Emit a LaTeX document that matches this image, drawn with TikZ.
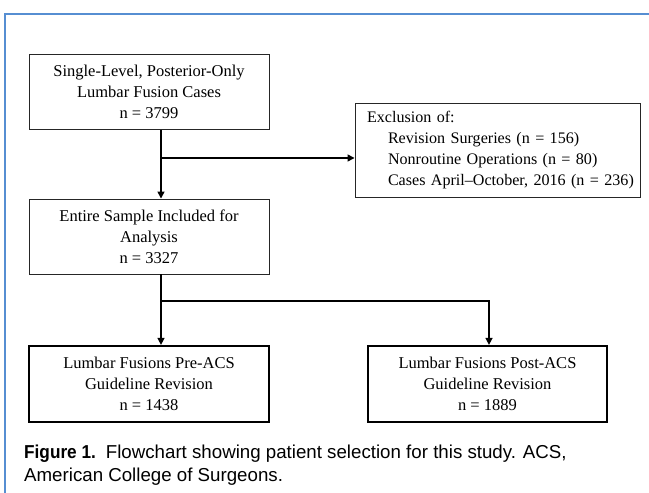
\documentclass[tikz,border=0pt]{standalone}
\usepackage{fontspec}
\setmainfont{Liberation Serif}
\newfontfamily\capfont{Liberation Sans}
\usetikzlibrary{arrows.meta,calc}
\definecolor{framebl}{RGB}{86,142,210}
\tikzset{
  boxtext/.style={font=\fontsize{16.5}{21}\selectfont},
  thinbox/.style={draw=black!85, line width=0.9pt, boxtext, align=center, inner sep=0pt, minimum width=240pt, minimum height=75pt},
  thickbox/.style={draw=black, line width=2.2pt, boxtext, align=center, inner sep=0pt, minimum width=240pt, minimum height=76pt},
  exclbox/.style={draw=black!85, line width=0.9pt, font=\fontsize{16.1}{21}\selectfont, align=left, inner xsep=12pt, inner ysep=0pt, text width=261pt, minimum height=94pt},
  conn/.style={line width=1.4pt, black},
  arr/.style={conn, -{Triangle[length=7pt,width=7pt]}},
  framel/.style={draw=framebl, line width=2.6pt},
  captext/.style={font=\capfont\fontsize{18.7}{23}\selectfont, anchor=base west, inner sep=0pt}
}
\begin{document}
\begin{tikzpicture}[x=1pt,y=1pt]
\useasboundingbox (0,0) rectangle (649,493);
% frame
\draw[framel] (5,0) -- (5,479) -- (649,479);
% nodes
\node[thinbox] (b1) at (149,401) {Single-Level, Posterior-Only\\Lumbar Fusion Cases\\n = 3799};
\node[exclbox] (excl) at (497.5,343) {\mbox{Exclusion of:}\\\mbox{\hspace*{21pt}Revision Surgeries (n = 156)}\\\mbox{\hspace*{21pt}Nonroutine Operations (n = 80)}\\\mbox{\hspace*{21pt}Cases April--October, 2016 (n = 236)}};
\node[thinbox] (b2) at (149,256.5) {Entire Sample Included for\\Analysis\\n = 3327};
\node[thickbox] (b3) at (149,109) {Lumbar Fusions Pre-ACS\\Guideline Revision\\n = 1438};
\node[thickbox, minimum width=239pt] (b4) at (487.5,109) {Lumbar Fusions Post-ACS\\Guideline Revision\\n = 1889};
% junctions
\coordinate (sp) at (161,335);
\coordinate (sq) at (161,192);
\coordinate (sr) at (489,192);
% connectors
\draw[arr] (b1.south -| sp) -- (b2.north -| sp);
\draw[arr] (sp) -- (sp -| excl.west);
\draw[arr] (b2.south -| sq) -- (b3.north -| sq);
\draw[arr] (sq) -- (sr) -- (b4.north -| sr);
% caption
\node[captext] (cap1) at (24,34) {\scalebox{0.92}[1]{\textbf{Figure 1.}}\hspace{10pt}Flowchart showing patient selection for this study. ACS,};
\node[captext] (cap2) at (24,11) {American College of Surgeons.};
\end{tikzpicture}
\end{document}
